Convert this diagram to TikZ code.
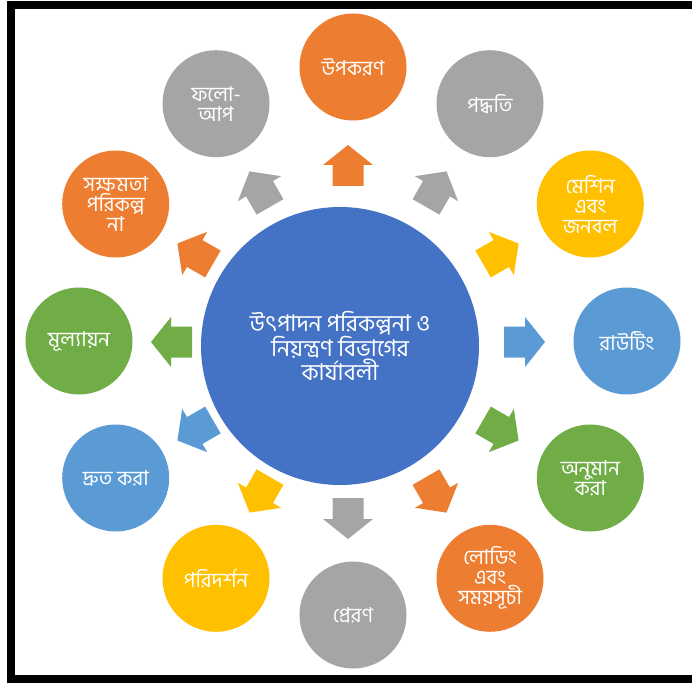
\documentclass[tikz,border=0pt]{standalone}
\usepackage{fontspec}
\usetikzlibrary{calc}
\newfontfamily\bn[Script=Bengali]{Hind Siliguri}
\definecolor{cblue}{HTML}{4472C4}
\definecolor{corange}{HTML}{ED7D31}
\definecolor{cgray}{HTML}{A5A5A5}
\definecolor{cyellow}{HTML}{FFC000}
\definecolor{clblue}{HTML}{5B9BD5}
\definecolor{cgreen}{HTML}{70AD47}
\tikzset{
  outer/.style={circle, minimum size=107pt, inner sep=0pt, text=white, align=center,
    font=\bn\fontsize{20.5}{20}\selectfont},
  centre/.style={circle, minimum size=278pt, inner sep=0pt, fill=cblue, text=white, align=center,
    font=\bn\fontsize{23}{23}\selectfont},
}
\begin{document}
\begin{tikzpicture}[x=1pt,y=-1pt]
\useasboundingbox (0,0) rectangle (692,684);
\fill[white] (0,0) rectangle (692,684);
% frame
\draw[line width=8pt] (692,5) -- (11,5) -- (11,679) -- (692,679);
% central circle
\node[centre] (c) at (340,346) {উৎপাদন পরিকল্পনা ও\\নিয়ন্ত্রণ বিভাগের\\কার্যাবলী};
% outer circles
\node[outer, fill=corange] (n0) at ($(353,341)+(-90:274)$) {উপকরণ};
\node[outer, fill=cgray]   (n1) at ($(353,341)+(-60:274)$) {পদ্ধতি};
\node[outer, fill=cyellow] (n2) at ($(353,341)+(-30:274)$) {মেশিন\\এবং\\জনবল};
\node[outer, fill=clblue]  (n3) at ($(353,341)+(0:274)$) {রাউটিং};
\node[outer, fill=cgreen]  (n4) at ($(353,341)+(30:274)$) {অনুমান\\করা};
\node[outer, fill=corange] (n5) at ($(353,341)+(60:274)$) {লোডিং\\এবং\\সময়সূচী};
\node[outer, fill=cgray]   (n6) at ($(353,341)+(90:274)$) {প্রেরণ};
\node[outer, fill=cyellow] (n7) at ($(353,341)+(120:274)$) {পরিদর্শন};
\node[outer, fill=clblue]  (n8) at ($(353,341)+(150:274)$) {দ্রুত করা};
\node[outer, fill=cgreen]  (n9) at ($(353,341)+(180:274)$) {মূল্যায়ন};
\node[outer, fill=corange] (n10) at ($(353,341)+(210:274)$) {সক্ষমতা\\পরিকল্প\\না};
\node[outer, fill=cgray]   (n11) at ($(353,341)+(240:274)$) {ফলো-\\আপ};
% block arrows
\foreach \a/\col in {-90/corange,-60/cgray,-30/cyellow,0/clblue,30/cgreen,60/corange,90/cgray,120/cyellow,150/clblue,180/cgreen,210/corange,240/cgray}{
  \begin{scope}[shift={(348,342)}, rotate=-\a]
    \fill[\col] (156,-15.5) -- (177,-15.5) -- (177,-25) -- (197,0) -- (177,25) -- (177,15.5) -- (156,15.5) -- cycle;
  \end{scope}
}
\end{tikzpicture}
\end{document}
